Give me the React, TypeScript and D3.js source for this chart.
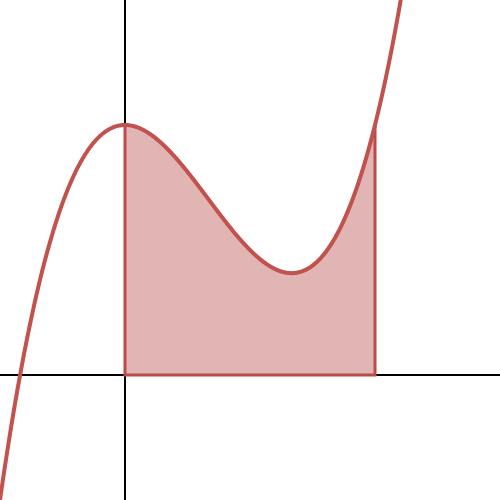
import * as d3 from 'd3';
import React from 'react';

// cubic y = x^3 - 2x^2 + 2, shaded from x=0 to x=2
const coefficients = [1, -2, 0, 2];
const xDomain = [-1, 3];
const yDomain = [-1, 3];
const shadeBounds = [0, 2];

const width = 500;
const height = 500;
const curveColor = '#c2524e';
const fillColor = '#e0b5b4';

const f = (x: number) => coefficients.reduce((acc, c) => acc * x + c, 0);

export default function App() {
    const x = d3.scaleLinear().domain(xDomain).range([0, width]);
    const y = d3.scaleLinear().domain(yDomain).range([height, 0]);

    const samples = d3.range(xDomain[0], xDomain[1] + 0.001, 0.005).map(v => [v, f(v)] as [number, number]);
    const shadeSamples = d3.range(shadeBounds[0], shadeBounds[1] + 0.0001, 0.005).map(v => [v, f(v)] as [number, number]);

    const line = d3.line<[number, number]>()
        .x(d => x(d[0]))
        .y(d => y(d[1]));

    const area = d3.area<[number, number]>()
        .x(d => x(d[0]))
        .y0(y(0))
        .y1(d => y(d[1]));

    const shadePath = area(shadeSamples) as string;

    return (
        <div style={{ position: 'fixed', left: 0, top: 0 }}>
            <svg width={width} height={height} style={{ display: 'block', background: '#fff' }}>
                <line x1={x(0)} x2={x(0)} y1={0} y2={height} stroke="#000" strokeWidth={2} />
                <line x1={0} x2={width} y1={y(0)} y2={y(0)} stroke="#000" strokeWidth={2} />
                <path d={shadePath} fill={fillColor} stroke="#bd4a47" strokeWidth={3} />
                <path d={line(samples) as string} fill="none" stroke={curveColor} strokeWidth={4} />
            </svg>
        </div>
    );
}
